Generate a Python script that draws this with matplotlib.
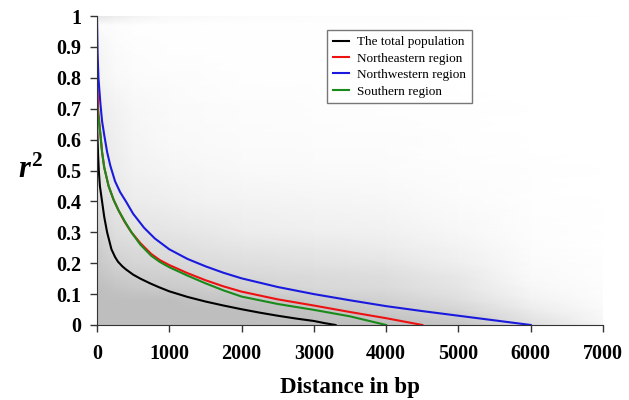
import numpy as np
import matplotlib
matplotlib.use('Agg')
import matplotlib.pyplot as plt
from matplotlib.colors import LinearSegmentedColormap

plt.rcParams['font.family'] = ['Liberation Serif', 'DejaVu Serif']
plt.rcParams['mathtext.fontset'] = 'custom'
plt.rcParams['mathtext.it'] = 'Liberation Serif:italic:bold'
plt.rcParams['mathtext.rm'] = 'Liberation Serif:bold'

# LD decay curves (distance in bp, r^2)
total_x = [0, 5, 15, 25, 40, 70, 100, 140, 200, 250, 290, 350, 400, 500, 600, 733, 850,
           1000, 1250, 1500, 1750, 2000, 2250, 2500, 2750, 3000, 3150, 3300]
total_y = [0.67, 0.62, 0.55, 0.50, 0.45, 0.40, 0.35, 0.30, 0.245, 0.22, 0.205, 0.19, 0.18,
           0.163, 0.150, 0.135, 0.123, 0.109, 0.091, 0.076, 0.063, 0.051, 0.04, 0.03, 0.021,
           0.013, 0.006, 0.0]

ne_x = [0, 5, 15, 46, 70, 100, 160, 230, 300, 380, 470, 600, 750, 870, 1000, 1250, 1500,
        1750, 2000, 2500, 3000, 3500, 4000, 4500]
ne_y = [0.90, 0.80, 0.70, 0.62, 0.56, 0.51, 0.45, 0.405, 0.37, 0.335, 0.302, 0.265, 0.23,
        0.21, 0.194, 0.168, 0.145, 0.125, 0.108, 0.083, 0.063, 0.042, 0.022, 0.0]

nw_x = [0, 8, 20, 46, 70, 100, 140, 185, 250, 320, 400, 500, 650, 800, 1000, 1250, 1500,
        1750, 2000, 2500, 3000, 3500, 4000, 4500, 5000, 5500, 6000]
nw_y = [1.0, 0.88, 0.80, 0.72, 0.66, 0.615, 0.56, 0.515, 0.465, 0.43, 0.40, 0.36, 0.315,
        0.28, 0.245, 0.214, 0.19, 0.169, 0.151, 0.123, 0.100, 0.08, 0.061, 0.045, 0.03,
        0.015, 0.0]

s_x = [0, 15, 46, 70, 100, 160, 230, 300, 385, 485, 600, 750, 870, 1000, 1250, 1500, 1750,
       2000, 2500, 3000, 3500, 4000]
s_y = [0.72, 0.68, 0.62, 0.56, 0.51, 0.45, 0.405, 0.37, 0.335, 0.297, 0.26, 0.224, 0.204,
       0.187, 0.16, 0.135, 0.112, 0.092, 0.068, 0.049, 0.028, 0.0]

# density of the grey pairwise r^2 cloud (0 = empty, 10 = solid), estimated by eye
cloud_x = [0, 250, 500, 1000, 1500, 2000, 3000, 4000, 5000, 6000, 7000]
cloud_y = [0, 0.05, 0.08, 0.12, 0.16, 0.2, 0.25, 0.3, 0.4, 0.5, 0.6, 0.7, 0.8, 0.9, 0.97, 1.0]
cloud = [
    [10, 10, 10, 10, 10, 10, 10, 10, 9, 5, 1.5],
    [10, 10, 10, 10, 10, 10, 9, 8, 6.5, 3, 0.8],
    [10, 10, 10, 10, 9, 9, 8, 7, 5, 2, 0.5],
    [10, 9, 8.5, 8, 7.5, 7, 6, 5.5, 4, 1.2, 0.3],
    [9, 8, 7.5, 7, 6.5, 6, 5.5, 5, 3.5, 0.8, 0.2],
    [8.5, 7, 6.5, 6, 5.5, 5, 4.5, 4, 2.5, 0.6, 0.1],
    [8, 6, 5.5, 5, 4.5, 4, 3.5, 3, 1.8, 0.4, 0],
    [7, 5, 4.5, 4, 3.5, 3, 2.5, 2.2, 1.2, 0.3, 0],
    [5.5, 4, 3, 2.5, 2, 1.8, 1.5, 1.2, 0.6, 0.2, 0],
    [4, 3, 2, 1.5, 1.2, 1, 0.8, 0.6, 0.3, 0.1, 0],
    [3.5, 2.5, 1.5, 1, 0.8, 0.6, 0.5, 0.4, 0.2, 0, 0],
    [3, 2, 1.2, 0.8, 0.6, 0.5, 0.3, 0.2, 0.1, 0, 0],
    [2, 1, 0.6, 0.4, 0.3, 0.2, 0.1, 0.1, 0, 0, 0],
    [1.5, 0.6, 0.3, 0.2, 0.1, 0.1, 0.1, 0, 0, 0, 0],
    [0.5, 0.3, 0.2, 0.1, 0.1, 0.1, 0.1, 0.1, 0, 0, 0],
    [4, 3, 2, 1, 0.8, 0.6, 0.5, 0.4, 0.2, 0.1, 0],
]

xticks = [0, 1000, 2000, 3000, 4000, 5000, 6000, 7000]
yticks = [0, 0.1, 0.2, 0.3, 0.4, 0.5, 0.6, 0.7, 0.8, 0.9, 1.0]
ytick_labels = ['0', '0.1', '0.2', '0.3', '0.4', '0.5', '0.6', '0.7', '0.8', '0.9', '1']

fig = plt.figure(figsize=(6.29, 4.0), dpi=100)
ax = fig.add_axes([0.1542, 0.1875, 0.8045, 0.7725])

grey = LinearSegmentedColormap.from_list('cloud', ['#ffffff', '#bebebe'])
X, Y = np.meshgrid(cloud_x, cloud_y)
ax.pcolormesh(X, Y, np.array(cloud), cmap=grey, vmin=0, vmax=10,
              shading='gouraud', zorder=0)

lw = 1.5
ax.plot(total_x, total_y, color='black', lw=lw, label='The total population')
ax.plot(ne_x, ne_y, color='#ee1111', lw=lw, label='Northeastern region')
ax.plot(nw_x, nw_y, color='#1a1adf', lw=lw, label='Northwestern region')
ax.plot(s_x, s_y, color='#1a8a1a', lw=lw, label='Southern region')

ax.set_xlim(0, 7000)
ax.set_ylim(0, 1)
ax.set_xticks(xticks)
ax.set_xticklabels([str(t) for t in xticks])
ax.set_yticks(yticks)
ax.set_yticklabels(ytick_labels)
for lab in ax.get_xticklabels() + ax.get_yticklabels():
    lab.set_fontweight('bold')
    lab.set_fontsize(14.5)
ax.tick_params(axis='x', direction='out', length=5, width=1, color='#333333', pad=9)
ax.tick_params(axis='y', direction='out', length=5, width=1, color='#333333', pad=6)

ax.spines['top'].set_visible(False)
ax.spines['right'].set_visible(False)
ax.spines['left'].set_color('#333333')
ax.spines['bottom'].set_color('#333333')

ax.set_xlabel('Distance in bp', fontsize=16.5, fontweight='bold', labelpad=9)
fig.text(0.048, 0.575, '$r^2$', fontsize=22, ha='center', va='center')

leg = ax.legend(loc='upper left', bbox_to_anchor=(0.52, 0.925),
                bbox_transform=fig.transFigure, fontsize=9.5, frameon=True,
                fancybox=False, edgecolor='#555555', handlelength=1.2,
                handletextpad=0.6, borderpad=0.45, labelspacing=0.32,
                borderaxespad=0)
leg.get_frame().set_linewidth(1.0)

fig.savefig('out.png', dpi=100)
